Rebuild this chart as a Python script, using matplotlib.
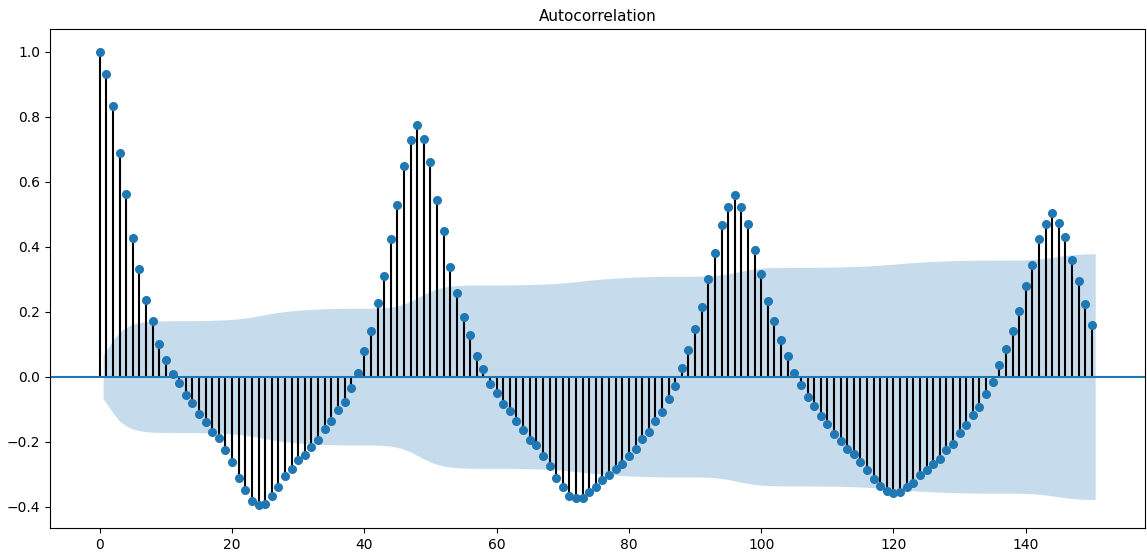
import numpy as np
import matplotlib
matplotlib.use("Agg")
import matplotlib.pyplot as plt

title = "Autocorrelation"
nobs = 841  # sample size implied by the width of the confidence band

acf_values = [
    1.000, 0.930, 0.833, 0.688, 0.563, 0.427, 0.330, 0.237, 0.172, 0.101,
    0.051, 0.008, -0.019, -0.057, -0.082, -0.115, -0.139, -0.170, -0.189, -0.227,
    -0.263, -0.311, -0.348, -0.384, -0.396, -0.391, -0.368, -0.341, -0.307, -0.283,
    -0.256, -0.242, -0.217, -0.195, -0.160, -0.137, -0.102, -0.078, -0.034, 0.012,
    0.079, 0.140, 0.226, 0.310, 0.423, 0.527, 0.648, 0.729, 0.773, 0.732,
    0.660, 0.545, 0.447, 0.337, 0.258, 0.184, 0.127, 0.064, 0.025, -0.023,
    -0.049, -0.085, -0.106, -0.137, -0.163, -0.194, -0.211, -0.244, -0.275, -0.311,
    -0.340, -0.367, -0.375, -0.373, -0.355, -0.340, -0.317, -0.304, -0.283, -0.270,
    -0.245, -0.222, -0.191, -0.170, -0.137, -0.110, -0.069, -0.029, 0.028, 0.081,
    0.148, 0.214, 0.302, 0.382, 0.466, 0.522, 0.560, 0.522, 0.471, 0.391,
    0.317, 0.234, 0.172, 0.112, 0.064, 0.012, -0.025, -0.062, -0.090, -0.121,
    -0.146, -0.177, -0.199, -0.224, -0.239, -0.263, -0.288, -0.316, -0.337, -0.352,
    -0.357, -0.355, -0.340, -0.326, -0.304, -0.286, -0.268, -0.254, -0.227, -0.206,
    -0.173, -0.150, -0.117, -0.093, -0.052, -0.016, 0.037, 0.084, 0.139, 0.201,
    0.278, 0.345, 0.423, 0.471, 0.504, 0.474, 0.430, 0.358, 0.293, 0.222,
    0.160,
]

acf = np.array(acf_values)
lags = np.arange(len(acf))

# Bartlett confidence interval (as statsmodels computes it)
varacf = np.ones(len(acf)) / nobs
varacf[0] = 0
varacf[1] = 1.0 / nobs
varacf[2:] *= 1 + 2 * np.cumsum(acf[1:-1] ** 2)
interval = 1.959964 * np.sqrt(varacf)

fig = plt.figure(figsize=(11.47, 5.54), dpi=100)
ax = fig.add_axes([50 / 1147, 1 - 528 / 554, 1095 / 1147, 499 / 554])

ax.vlines(lags, [0], acf, colors="k", linewidth=1.5)
ax.axhline(0, color="C0", linewidth=1.5)
ax.margins(0.05)
ax.plot(lags, acf, marker="o", markersize=5.5, linestyle="None", color="C0")
ax.set_title(title, fontsize=11)

fl = lags[1:].astype(float)
fl[0] -= 0.5
fl[-1] += 0.5
ax.fill_between(fl, -interval[1:], interval[1:], alpha=0.25, color="C0", linewidth=0)

ax.set_yticks([-0.4, -0.2, 0.0, 0.2, 0.4, 0.6, 0.8, 1.0])
ax.tick_params(labelsize=10)

fig.savefig("out.png", dpi=100)
